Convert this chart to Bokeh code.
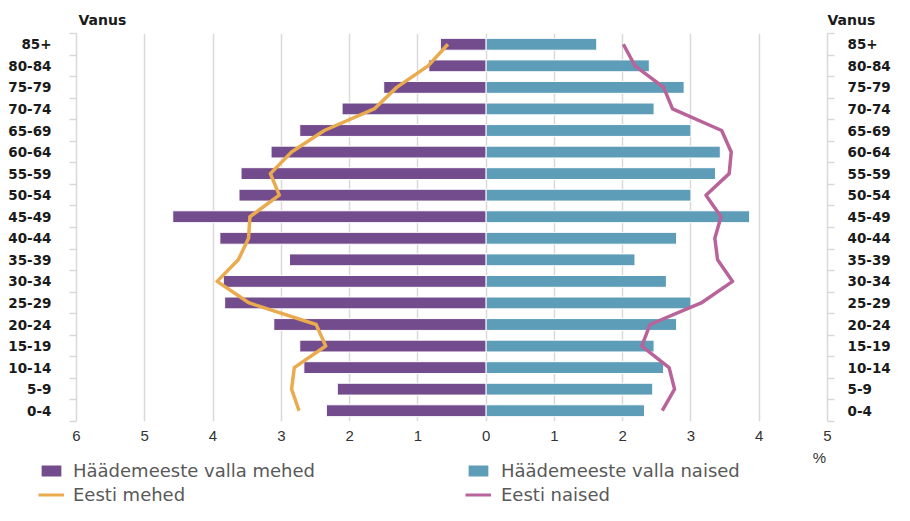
from bokeh.plotting import figure
from bokeh.layouts import column
from bokeh.models import FixedTicker, LinearAxis, Legend, LegendItem, Range1d
from bokeh.embed import file_html
from bokeh.resources import INLINE

# Age groups, bottom to top
categories = ["0-4", "5-9", "10-14", "15-19", "20-24", "25-29", "30-34", "35-39", "40-44",
              "45-49", "50-54", "55-59", "60-64", "65-69", "70-74", "75-79", "80-84", "85+"]
# Häädemeeste valla mehed (%)
valla_mehed = [2.34, 2.18, 2.67, 2.73, 3.11, 3.83, 3.85, 2.88, 3.90,
               4.59, 3.62, 3.59, 3.15, 2.73, 2.11, 1.50, 0.84, 0.67]
# Häädemeeste valla naised (%)
valla_naised = [2.32, 2.44, 2.60, 2.46, 2.79, 3.00, 2.64, 2.18, 2.79,
                3.86, 3.00, 3.36, 3.43, 3.00, 2.46, 2.90, 2.39, 1.62]
# Eesti mehed (%)
eesti_mehed = [2.74, 2.85, 2.81, 2.35, 2.49, 3.47, 3.94, 3.63, 3.48,
               3.46, 3.03, 3.16, 2.85, 2.37, 1.64, 1.31, 0.85, 0.56]
# Eesti naised (%)
eesti_naised = [2.58, 2.76, 2.68, 2.28, 2.40, 3.15, 3.61, 3.39, 3.35,
                3.44, 3.22, 3.56, 3.59, 3.45, 2.73, 2.60, 2.18, 2.01]
x_ticks = [-6, -5, -4, -3, -2, -1, 0, 1, 2, 3, 4, 5]
axis_title = "Vanus"
unit_label = "%"
unit_pos = 4.88
series_names = ["Häädemeeste valla mehed", "Häädemeeste valla naised", "Eesti mehed", "Eesti naised"]

PURPLE = "#734c8e"
BLUE = "#5e9db8"
ORANGE = "#eaaa4e"
PINK = "#b8649a"
GRID = "#d9d9d9"
NAN = float("nan")

W = 894
BORDER_L, BORDER_R = 76, 67
TOP_H, MAIN_H, BOT_H = 28, 419, 58

ys = list(range(len(categories)))
x0, x1 = x_ticks[0], x_ticks[-1]
unit_px = (W - BORDER_L - BORDER_R) / (x1 - x0)
outer_range = (x0 - BORDER_L / unit_px, x1 + BORDER_R / unit_px)


def bare(height):
    f = figure(width=W, height=height, x_range=Range1d(*outer_range), y_range=Range1d(0, height),
               x_axis_type=None, y_axis_type=None, output_backend="svg", toolbar_location=None,
               min_border=0)
    f.outline_line_color = None
    f.frame_align = False
    return f


# ---- top strip: "Vanus" over both vertical axes
top = bare(TOP_H)
top.text(x=[x0, x1], y=[TOP_H - 19] * 2, text=[axis_title] * 2, text_align="left", x_offset=[2, 0],
         text_baseline="middle", text_font={"value": "DejaVu Sans"}, text_font_style="bold",
         text_font_size="14px", text_color="#1a1a1a")

# ---- main chart
p = figure(width=W, height=MAIN_H, x_range=Range1d(x0, x1), y_range=Range1d(-0.5, len(categories) - 0.5),
           output_backend="svg", toolbar_location=None,
           min_border_left=BORDER_L, min_border_right=BORDER_R, min_border_top=5, min_border_bottom=26)
p.outline_line_color = None
p.frame_align = False
p.ygrid.visible = False
p.xgrid.ticker = FixedTicker(ticks=[t for t in x_ticks if x0 < t < x1])
p.xgrid.grid_line_color = GRID
p.xgrid.grid_line_width = 1.5

xa = p.xaxis[0]
xa.ticker = FixedTicker(ticks=x_ticks)
xa.major_label_overrides = {t: str(abs(t)) for t in x_ticks}
xa.axis_line_color = None
xa.major_tick_line_color = None
xa.minor_tick_line_color = None
xa.major_tick_out = 0
xa.major_tick_in = 0
xa.minor_tick_out = 0
xa.minor_tick_in = 0
xa.major_label_standoff = 9
xa.major_label_text_font = "Liberation Sans"
xa.major_label_text_font_size = "15px"
xa.major_label_text_color = "#333333"


def style_y(ax, standoff):
    ax.ticker = FixedTicker(ticks=ys, minor_ticks=[i - 0.5 for i in range(len(categories) + 1)])
    ax.major_label_overrides = {i: c for i, c in zip(ys, categories)}
    ax.major_tick_out = 0
    ax.major_tick_in = 0
    ax.major_tick_line_color = None
    ax.minor_tick_out = 7
    ax.minor_tick_in = 0
    ax.minor_tick_line_color = GRID
    ax.minor_tick_line_width = 1.5
    ax.axis_line_color = GRID
    ax.axis_line_width = 1.5
    ax.major_label_standoff = standoff
    ax.major_label_text_font = "DejaVu Sans"
    ax.major_label_text_font_style = "bold"
    ax.major_label_text_font_size = "13.5px"
    ax.major_label_text_color = "#1a1a1a"


style_y(p.yaxis[0], 18)
ra = LinearAxis()
style_y(ra, 13)
p.add_layout(ra, "right")

p.hbar(y=ys, left=[-v for v in valla_mehed], right=0, height=0.55,
       fill_color=PURPLE, line_color="white", line_width=1)
p.hbar(y=ys, left=0, right=valla_naised, height=0.55,
       fill_color=BLUE, line_color="white", line_width=1)
p.line(x=[-v for v in eesti_mehed], y=ys, line_color=ORANGE, line_width=3.5, line_join="round")
p.line(x=eesti_naised, y=ys, line_color=PINK, line_width=3.5, line_join="round")

# ---- bottom strip: unit label and legend
bot = bare(BOT_H)
bot.text(x=[unit_pos], y=[BOT_H - 10], text=[unit_label], text_align="center", text_baseline="middle",
         text_font={"value": "Liberation Sans"}, text_font_size="15px", text_color="#333333")
# legend proxies (no visible data)
pm = bot.hbar(y=[NAN], left=[NAN], right=[NAN], height=1, fill_color=PURPLE, line_color="white", line_width=1)
pf = bot.hbar(y=[NAN], left=[NAN], right=[NAN], height=1, fill_color=BLUE, line_color="white", line_width=1)
lm = bot.line(x=[NAN], y=[NAN], line_color=ORANGE, line_width=3)
lf = bot.line(x=[NAN], y=[NAN], line_color=PINK, line_width=3)


def legend_col(items, x, standoff):
    return Legend(items=items, location=(x, 0), orientation="vertical",
                  glyph_width=26, glyph_height=15, label_standoff=standoff, spacing=3,
                  padding=0, margin=0, border_line_color=None, background_fill_alpha=0,
                  label_text_font="DejaVu Sans", label_text_font_size="18px",
                  label_text_color="#595959", label_height=20)


bot.add_layout(legend_col([LegendItem(label=series_names[0], renderers=[pm]),
                           LegendItem(label=series_names[2], renderers=[lm])], 38, 9))
bot.add_layout(legend_col([LegendItem(label=series_names[1], renderers=[pf]),
                           LegendItem(label=series_names[3], renderers=[lf])], 465, 10))

layout = column(top, p, bot, spacing=0)
open("out.html", "w").write(file_html(layout, INLINE))
